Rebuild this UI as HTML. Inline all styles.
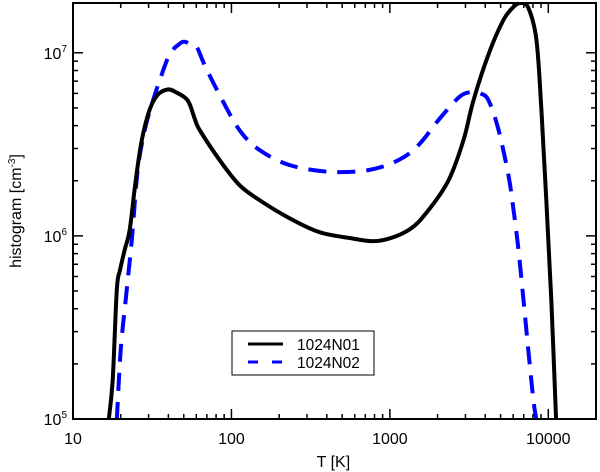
<!DOCTYPE html>
<html><head><meta charset="utf-8"><style>
html,body{margin:0;padding:0;background:#fff;}
svg{display:block;font-family:"Liberation Sans",sans-serif;}
</style></head><body>
<svg id="chart" width="600" height="472"></svg>
<script>
const blackT=[16.8,17.8,18.9,19.8,21.2,22.8,24.9,27.2,30.5,34.3,39.6,44.5,52.9,58.5,62.9,84.1,112,150,232,357,552,853,1320,1760,2350,2920,3370,4190,5210,6030,6670,7480,8410,9040,9710,10440,11200];
const blackV=[0.99e5,1.63e5,5.07e5,6.5e5,8.4e5,1.08e6,2.02e6,3.35e6,4.9e6,5.9e6,6.3e6,6.1e6,5.5e6,4.4e6,3.8e6,2.6e6,1.9e6,1.57e6,1.25e6,1.05e6,9.75e5,9.4e5,1.08e6,1.39e6,2.02e6,3.35e6,5.5e6,9.8e6,1.51e7,1.78e7,1.87e7,1.76e7,1.18e7,4.9e6,1.57e6,4.47e5,0.99e5];
const blueT=[18.9,20.0,21.5,23.5,25.6,28.4,31.4,35.3,40.7,47.1,50.6,54.4,60.2,67.6,84.1,112,150,232,413,738,1140,1520,2030,2720,3230,3730,4190,4850,5600,6030,6480,6970,7480,8050,8410];
const blueV=[0.99e5,2.38e5,4.47e5,9.5e5,2.29e6,3.8e6,5.2e6,7.1e6,9.8e6,1.12e7,1.15e7,1.12e7,1.08e7,8.6e6,5.9e6,3.8e6,2.95e6,2.44e6,2.24e6,2.29e6,2.6e6,3.14e6,4.3e6,5.7e6,6.1e6,6.0e6,5.5e6,3.8e6,2.15e6,1.39e6,8.4e5,4.47e5,2.38e5,1.27e5,0.99e5];
const xTickVals=[10,100,1000,10000];
const xTickLabels=["10","100","1000","10000"];
const yTickVals=[1e5,1e6,1e7];
const yTickExps=["5","6","7"];

const NS="http://www.w3.org/2000/svg";
const svg=document.getElementById('chart');
const L=73,R=596,T=3,B=419;
const xMin=10,xMax=20000,yMin=1e5,yMax=1.87e7;
function xs(v){return L+(R-L)*Math.log10(v/xMin)/Math.log10(xMax/xMin);}
function ys(v){return B-(B-T)*Math.log10(v/yMin)/Math.log10(yMax/yMin);}
function el(tag,attrs,parent){const e=document.createElementNS(NS,tag);for(const k in attrs)e.setAttribute(k,attrs[k]);(parent||svg).appendChild(e);return e;}

const defs=el('defs',{});
const cp=el('clipPath',{id:'clip'},defs);
el('rect',{x:L,y:T,width:R-L,height:B-T},cp);

const ticks=el('g',{stroke:'#000','stroke-width':1.5});


for(let d=10;d<=10000;d*=10){for(let m=1;m<=9;m++){const v=d*m;if(v>xMax)break;const x=xs(v);const len=m===1?10:5;
el('line',{x1:x,y1:B,x2:x,y2:B-len},ticks);el('line',{x1:x,y1:T,x2:x,y2:T+len},ticks);}}
for(let d=1e5;d<=1e7;d*=10){for(let m=1;m<=9;m++){const v=d*m;if(v>yMax)break;const y=ys(v);const len=m===1?10:5;
el('line',{x1:L,y1:y,x2:L+len,y2:y},ticks);el('line',{x1:R,y1:y,x2:R-len,y2:y},ticks);}}

xTickVals.forEach((v,i)=>{const t=el('text',{x:xs(v),y:444,'text-anchor':'middle','font-size':16});t.textContent=xTickLabels[i];

});
yTickVals.forEach((v,i)=>{const t=el('text',{x:L-6,y:ys(v)+6,'text-anchor':'end','font-size':16});


const a=el('tspan',{},t);a.textContent='10';const b=el('tspan',{dy:-7,'font-size':10},t);b.textContent=yTickExps[i];});

function path(Ts,Vs){
  const p=Ts.map((t,i)=>[xs(t),ys(Vs[i])]);
  let d='M'+p[0][0].toFixed(1)+','+p[0][1].toFixed(1);
  for(let i=0;i<p.length-1;i++){
    const p0=p[Math.max(0,i-1)],p1=p[i],p2=p[i+1],p3=p[Math.min(p.length-1,i+2)];
    const c1=[p1[0]+(p2[0]-p0[0])/6,p1[1]+(p2[1]-p0[1])/6];
    const c2=[p2[0]-(p3[0]-p1[0])/6,p2[1]-(p3[1]-p1[1])/6];
    d+=' C'+c1.map(v=>v.toFixed(1)).join(',')+' '+c2.map(v=>v.toFixed(1)).join(',')+' '+p2[0].toFixed(1)+','+p2[1].toFixed(1);
  }
  return d;
}
const pb=el('path',{d:path(blueT,blueV),fill:'none',stroke:'#0000ff','stroke-width':4,'stroke-dasharray':'18,11','clip-path':'url(#clip)','stroke-linejoin':'round'});


const pk=el('path',{d:path(blackT,blackV),fill:'none',stroke:'#000','stroke-width':4,'clip-path':'url(#clip)','stroke-linejoin':'round'});



const frame=el('rect',{x:L,y:T,width:R-L,height:B-T,fill:'none',stroke:'#000','stroke-width':2});



const xl=el('text',{x:xs(100)+102,y:467,'text-anchor':'middle','font-size':16});xl.textContent='T [K]';


const yl=el('text',{transform:'translate(21,211) rotate(-90)','text-anchor':'middle','font-size':16});


const y1=el('tspan',{},yl);y1.textContent='histogram [cm';const y2=el('tspan',{dy:-6,'font-size':10},yl);y2.textContent='-3';const y3=el('tspan',{dy:6},yl);y3.textContent=']';

const lg=el('g',{});


el('rect',{x:232,y:331,width:142,height:44,fill:'#fff',stroke:'#000','stroke-width':1},lg);
el('line',{x1:248,y1:344,x2:283,y2:344,stroke:'#000','stroke-width':3},lg);
el('line',{x1:248,y1:362,x2:287,y2:362,stroke:'#0000ff','stroke-width':3,'stroke-dasharray':'10,14'},lg);
const t1=el('text',{x:297,y:350,'font-size':15.5},lg);t1.textContent='1024N01';


const t2=el('text',{x:297,y:368,'font-size':15.5},lg);t2.textContent='1024N02';


</script>
</body></html>
